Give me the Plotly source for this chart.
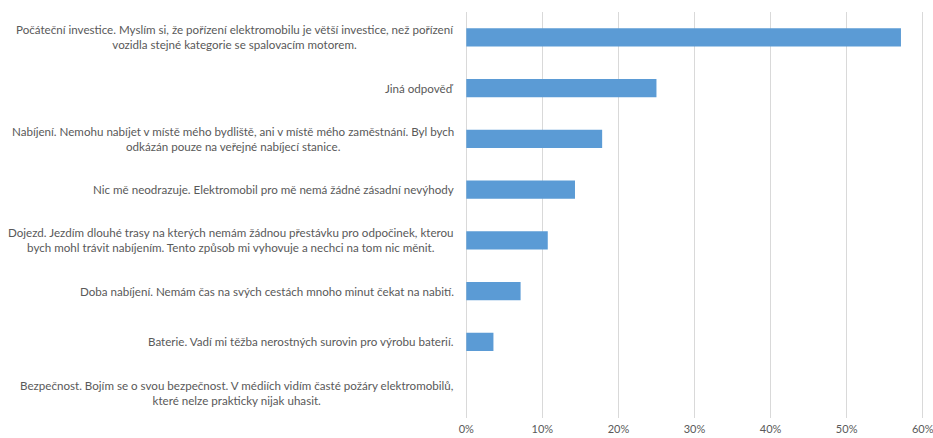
import plotly.graph_objects as go

# Answers (top to bottom) and share of respondents
categories = [
    "Počáteční investice. Myslím si, že pořízení elektromobilu je větší investice, než pořízení<br>vozidla stejné kategorie se spalovacím motorem.",
    "Jiná odpověď",
    "Nabíjení. Nemohu nabíjet v místě mého bydliště, ani v místě mého zaměstnání. Byl bych<br>odkázán pouze na veřejné nabíjecí stanice.",
    "Nic mě neodrazuje. Elektromobil pro mě nemá žádné zásadní nevýhody",
    "Dojezd. Jezdím dlouhé trasy na kterých nemám žádnou přestávku pro odpočinek, kterou<br>bych mohl trávit nabíjením. Tento způsob mi vyhovuje a nechci na tom nic měnit.",
    "Doba nabíjení. Nemám čas na svých cestách mnoho minut čekat na nabití.",
    "Baterie. Vadí mi těžba nerostných surovin pro výrobu baterií.",
    "Bezpečnost. Bojím se o svou bezpečnost. V médiích vidím časté požáry elektromobilů,<br>které nelze prakticky nijak uhasit.",
]
shares = [0.5714, 0.25, 0.1786, 0.1429, 0.1071, 0.0714, 0.0357, 0.0]

tick_vals = [0, 0.1, 0.2, 0.3, 0.4, 0.5, 0.6]
tick_text = ["0%", "10%", "20%", "30%", "40%", "50%", "60%"]

FONT = "Lato"
GREY = "#595959"

ids = list(range(len(categories)))

fig = go.Figure(
    go.Bar(
        x=shares,
        y=ids,
        orientation="h",
        marker=dict(color="#5B9BD5", line=dict(width=0)),
        width=0.36,
        hoverinfo="x",
    )
)

# Category labels: right-aligned block, centred lines
for i, txt in zip(ids, categories):
    fig.add_annotation(
        x=0, xref="x", y=i, yref="y",
        text=txt, showarrow=False,
        xanchor="right", yanchor="middle", align="center",
        xshift=-10,
        font=dict(family=FONT, size=11.6, color=GREY),
    )

fig.update_layout(
    width=933, height=438,
    margin=dict(l=464, r=8, t=12, b=20, autoexpand=False),
    paper_bgcolor="white", plot_bgcolor="white",
    showlegend=False,
    bargap=0.64,
    font=dict(family=FONT, size=11, color=GREY),
)
fig.update_xaxes(
    range=[-0.003, 0.603], tickvals=tick_vals, ticktext=tick_text,
    automargin=False,
    showgrid=True, gridcolor="#D9D9D9", gridwidth=1,
    zeroline=False, showline=False, ticks="",
    ticklabeloverflow="allow", ticklabelstandoff=3,
    tickfont=dict(family=FONT, size=11, color=GREY),
)
fig.update_yaxes(
    range=[len(categories) - 0.5, -0.5], automargin=False,
    showticklabels=False, showgrid=False, zeroline=False, showline=False, ticks="",
)

fig.write_html("out.html")
